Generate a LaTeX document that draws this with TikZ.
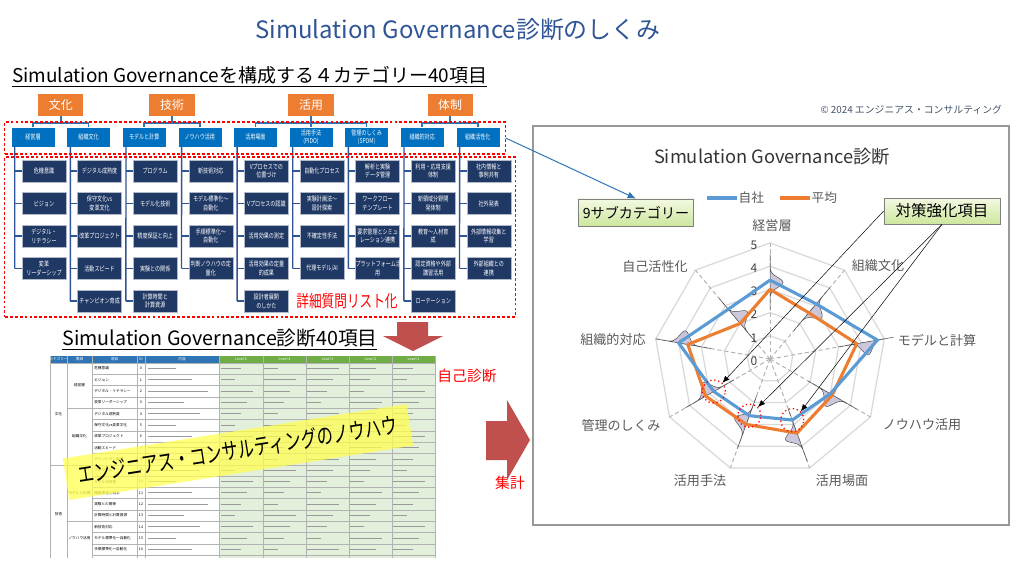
\documentclass[tikz,border=0pt]{standalone}
\usepackage{fontspec}
\setmainfont{Noto Sans CJK JP}
\newfontfamily\serre[FakeStretch=0.75]{Noto Sans CJK JP}
\newfontfamily\tresserre[FakeStretch=0.72]{Noto Sans CJK JP}
\usetikzlibrary{positioning,  % placement relatif
                calc,         % calculs de coordonnees
                arrows.meta}  % pointes de fleches
\definecolor{titre}{RGB}{47,85,151}
\definecolor{orcat}{RGB}{237,125,49}
\definecolor{blhdr}{RGB}{0,112,192}
\definecolor{nvitm}{RGB}{31,56,100}
\definecolor{blbrk}{RGB}{46,117,182}
\definecolor{bltrt}{RGB}{47,85,151}
\definecolor{rgfl}{RGB}{192,80,77}
\definecolor{serA}{RGB}{91,155,213}
\definecolor{serB}{RGB}{237,125,49}
\definecolor{grille}{RGB}{217,217,217}
\definecolor{lvbg}{RGB}{226,239,218}
\definecolor{lvhd}{RGB}{112,173,71}
\definecolor{tbhd}{RGB}{47,117,181}
\definecolor{cloche}{RGB}{196,189,214}
\definecolor{vtop}{RGB}{243,249,226}
\definecolor{vbot}{RGB}{205,231,158}
\definecolor{gristxt}{RGB}{89,89,89}
\definecolor{copyr}{RGB}{68,84,106}
\definecolor{jaune}{RGB}{255,255,80}
\tikzset{
  catbox/.style={fill=orcat, text=white, minimum width=1.125cm, minimum height=0.55cm,
    inner sep=0pt, font=\fontsize{8.5}{10}\selectfont},
  hdrbox/.style={fill=blhdr, draw=white, line width=0.3pt, text=white, text width=1.1cm,
    inner xsep=0pt, inner ysep=0pt, minimum height=0.5cm, align=center,
    font=\serre\fontsize{4.8}{5.6}\selectfont},
  itmbox/.style={fill=nvitm, draw=white!65!nvitm, line width=0.4pt, text=white, text width=1.1cm,
    inner xsep=0pt, inner ysep=0pt, minimum height=0.55cm, align=center,
    font=\serre\fontsize{4.8}{6.2}\selectfont},
  brk/.style={draw=blbrk, line width=1.1pt},
  tline/.style={draw=bltrt, line width=1pt},
  redbox/.style={draw=red, line width=0.8pt, dash pattern=on 2pt off 1.5pt},
  redtxt/.style={text=red, font=\fontsize{10.5}{12}\selectfont},
  vbox/.style={draw=black!50, line width=0.5pt, top color=vtop, bottom color=vbot,
    font=\fontsize{10}{12}\selectfont},
  anneau/.style={draw=grille, line width=0.9pt},
  rayon/.style={draw=black!30, line width=0.7pt, dash pattern=on 3pt off 2pt},
  serieA/.style={draw=serA, line width=2.2pt, line join=round},
  serieB/.style={draw=serB, line width=2.2pt, line join=round},
  bellst/.style={draw=black!70, line width=0.35pt, fill=cloche, fill opacity=0.85},
  rcirc/.style={draw=red, line width=0.9pt, dotted, circle, minimum size=0.58cm, inner sep=0pt},
  fleche/.style={draw=black, line width=0.35pt, -{Latex[length=5pt,width=4pt]}},
  axtxt/.style={text=gristxt, font=\fontsize{9.3}{11}\selectfont},
  valtxt/.style={text=black!75, font=\fontsize{8.5}{10}\selectfont},
  tgrid/.style={draw=black!30, line width=0.25pt},
  ttxt/.style={font=\fontsize{2.6}{3}\selectfont, inner sep=0pt},
  tbar/.style={draw=black!40, line width=0.7pt},
}
\begin{document}
\begin{tikzpicture}[x=0.025cm,y=-0.025cm]
\useasboundingbox (0,0) rectangle (1024,572);
% titres
\node[text=titre, font=\fontsize{17}{20}\selectfont] (ttl) at (458,30) {Simulation Governance診断のしくみ};
\node[anchor=west, inner sep=0pt, font=\fontsize{13.5}{16}\selectfont] (sub1) at (12,77)
  {\underline{Simulation Governanceを構成する４カテゴリー40項目}};
\node[anchor=east, text=copyr, font=\fontsize{7}{8}\selectfont] (cp) at (1007,110) {© 2024 エンジニアス・コンサルティング};

% arbre des 4 categories
\foreach \i/\h in {0/経営層,1/組織文化,2/モデルと計算,3/ノウハウ活用,4/活用場面,5/{活用手法\\(PIDO)},
                   6/{管理のしくみ\\(SPDM)},7/組織的対応,8/組織活性化}
  \node[hdrbox] (h\i) at ({33+55.6*\i},137) {\h};
\foreach \k/\a/\b/\t in {0/0/1/文化,1/2/3/技術,2/4/6/活用,3/7/8/体制}{
  \draw[brk] (h\a.north) -- ++(0,-4) -| (h\b.north);
  \node[catbox] (k\k) at ($(h\a.north)!0.5!(h\b.north)+(0,-22)$) {\t};
  \draw[brk] (k\k.south) -- ++(0,7);
}
\draw[brk] (h5.north) -- ++(0,-4);
\foreach \i/\n/\lst in {
  0/3/{危機意識,ビジョン,{デジタル・\\リテラシー},{変革\\リーダーシップ}},
  1/4/{デジタル成熟度,{保守文化vs\\変革文化},改革プロジェクト,活動スピード,チャンピオン育成},
  2/4/{プログラム,モデル化技術,精度保証と向上,実験との関係,{計算時間と\\計算資源}},
  3/3/{新技術対応,{モデル標準化～\\自動化},{手順標準化～\\自動化},{判断ノウハウの定\\量化}},
  4/4/{{Vプロセスでの\\位置づけ},Vプロセスの認識,活用効果の測定,{活用効果の定量\\的成果},{設計者展開\\のしかた}},
  5/3/{自動化プロセス,{実験計画法～\\設計探索},不確定性手法,代理モデル/AI},
  6/3/{{解析と実験\\データ管理},{ワークフロー\\テンプレート},{要求管理とシミュ\\レーション連携},{プラットフォーム活\\用}},
  7/4/{{利用・応用支援\\体制},{新領域分野開\\発体制},{教育～人材育\\成},{認定資格や外部\\講習活用},ローテーション},
  8/3/{{社内情報と\\事例共有},社外発表,{外部情報収集と\\学習},{外部組織との\\連携}}}{
  \foreach \t [count=\j from 0] in \lst {
    \node[itmbox] (c\i-\j) at ({44+55.6*\i},{171+32.5*\j}) {\t};
    \draw[tline] (c\i-\j.west) -- ++(-7,0);
  }
  \draw[tline] ($(h\i.south west)+(4,0)$) -- ($(c\i-\n.west)+(-7,0)$);
}
\node[redbox, minimum width=12.5cm, minimum height=0.8cm] (rb1) at (255,138) {};
\node[redbox, minimum width=12.75cm, minimum height=4cm] (rb2) at (260,237) {};
\node[redtxt, font=\serre\fontsize{12}{13}\selectfont] (dq) at (347,301) {詳細質問リスト化};

% tableau des 40 items
\node[anchor=west, inner sep=0pt, font=\fontsize{14}{16}\selectfont] (sub2) at (62,340)
  {\underline{Simulation Governance診断40項目}};
\fill[rgfl] (397,322) -- (428,322) -- (428,336) -- (443,336) -- (413,351) -- (383,336) -- (397,336) -- cycle;
\begin{scope}
\clip (45,350) rectangle (440,557);
\fill[tbhd] (50,356) rectangle (219,363);
\fill[lvhd] (219,356) rectangle (435,363);
\fill[white] (50,363) rectangle (219,560);
\fill[lvbg] (219,363) rectangle (435,560);
\foreach \r in {1,...,17} \draw[tgrid] (92,{363+11.3*\r}) -- (435,{363+11.3*\r});
\draw[tgrid] (50,363) -- (435,363);
\foreach \r in {4,9,14} \draw[tgrid] (67,{363+11.3*\r}) -- (92,{363+11.3*\r});
\draw[tgrid] (50,{363+11.3*9}) -- (67,{363+11.3*9});
\foreach \x in {50,67,92,137,145,219,263,306,349,392,435} \draw[tgrid] (\x,356) -- (\x,560);
\foreach \x/\t [count=\m] in {58.5/カテゴリー,79.5/領域,114.5/項目,141/ID,182/内容,241/Level 5,
                              284.5/Level 4,327.5/Level 3,370.5/Level 2,413.5/Level 1}
  \node[ttxt, text=white] (th\m) at (\x,359.5) {\t};
\foreach \t [count=\r from 0] in {危機意識,ビジョン,デジタル・リテラシー,変革リーダーシップ,デジタル成熟度,
    保守文化vs変革文化,改革プロジェクト,活動スピード,チャンピオン育成,プログラム,モデル化技術,
    精度保証と向上,実験との関係,計算時間と計算資源,新技術対応,モデル標準化～自動化,手順標準化～自動化,
    判断ノウハウの定量化}{
  \node[ttxt, anchor=west] (ti\r) at (94,{368.6+11.3*\r}) {\t};
  \node[ttxt] (id\r) at (141,{368.6+11.3*\r}) {\r};
  \draw[tbar] (148,{368.6+11.3*\r}) -- ++({28+mod(7*\r,5)*8},0);
  \foreach \c in {221,264,307,350,393}
    \draw[tbar] (\c,{368.6+11.3*\r}) -- ++({14+mod(3*\r+\c,4)*6},0);
}
\node[ttxt] (tc1) at (58.5,414) {文化};
\node[ttxt] (tc2) at (58.5,514) {技術};
\node[ttxt] (td1) at (79.5,385.6) {経営層};
\node[ttxt] (td2) at (79.5,436.5) {組織文化};
\node[ttxt] (td3) at (79.5,493) {モデルと計算};
\node[ttxt] (td4) at (79.5,538) {ノウハウ活用};
\end{scope}
\node[rotate=9, fill=jaune, fill opacity=0.75, minimum width=8.7cm, minimum height=1.05cm] (yb) at (238,452) {};
\node[rotate=9, font=\tresserre\fontsize{16}{18}\selectfont] (yt) at (238,450) {エンジニアス・コンサルティングのノウハウ};
\node[redtxt] (sd) at (467,376) {自己診断};
\fill[rgfl] (486,421) -- (507,421) -- (507,400) -- (530,440) -- (507,480) -- (507,460) -- (486,460) -- cycle;
\node[redtxt] (sk) at (510,483) {集計};

% diagramme radar
\draw[black!40, line width=0.8pt] (533,126) rectangle (1009,525);
\node[text=black!80, font=\fontsize{13}{15}\selectfont] (ct) at (772,157) {Simulation Governance診断};
\draw[serieA] (707,198) -- (737,198) coordinate (lgA);
\node[anchor=west, text=gristxt, inner sep=1pt, font=\fontsize{9}{10}\selectfont] (lA) at (lgA) {自社};
\draw[serieB] (780,198) -- (810,198) coordinate (lgB);
\node[anchor=west, text=gristxt, inner sep=1pt, font=\fontsize{9}{10}\selectfont] (lB) at (lgB) {平均};
\coordinate (ctr) at (770,359);
\def\ru{23.2}
\foreach \k in {1,...,5}
  \draw[anneau] plot[samples at={0,40,...,320}] ({770+\k*\ru*sin(\x)},{359-\k*\ru*cos(\x)}) -- cycle;
\foreach \a in {0,40,...,320}
  \draw[rayon] (ctr) -- ({770+5*\ru*sin(\a)},{359-5*\ru*cos(\a)});
\foreach \k in {0,...,5}
  \node[valtxt] (v\k) at (754,{361-\k*\ru}) {\k};
\foreach \t/\x/\y [count=\n] in {経営層/772/226,組織文化/878/266,モデルと計算/937/340,ノウハウ活用/922/425,
    活用場面/842/481,活用手法/700/481,管理のしくみ/621/425,組織的対応/613/340,自己活性化/655/267}
  \node[axtxt] (ax\n) at (\x,\y) {\t};
\foreach \v [count=\n from 0] in {3.4,3.1,4.7,3.0,2.8,2.6,2.8,4.0,2.8}
  \coordinate (b\n) at ({770+\v*\ru*sin(40*\n)},{359-\v*\ru*cos(40*\n)});
\foreach \v [count=\n from 0] in {3.0,2.6,3.8,3.1,3.4,3.0,3.2,3.6,2.0}
  \coordinate (o\n) at ({770+\v*\ru*sin(40*\n)},{359-\v*\ru*cos(40*\n)});
\foreach \v [count=\n from 0] in {3.3,2.8,4.2,3.1,3.5,2.9,3.0,3.8,2.2}{
  \begin{scope}[shift={(ctr)}, rotate=-40*\n]
    \draw[bellst] plot[domain=-28:28, samples=57] ({13*exp(-(\x/7)*(\x/7))},{-\v*\ru+\x}) -- cycle;
  \end{scope}
}
\draw[serieB] (o0) -- (o1) -- (o2) -- (o3) -- (o4) -- (o5) -- (o6) -- (o7) -- (o8) -- cycle;
\draw[serieA] (b0) -- (b1) -- (b2) -- (b3) -- (b4) -- (b5) -- (b6) -- (b7) -- (b8) -- cycle;
\node[rcirc] (rc6) at (b6) {};
\node[rcirc] (rc5) at (b5) {};
\node[rcirc] (rc4) at (b4) {};
\node[vbox, minimum width=2.8cm, minimum height=0.675cm] (sc) at (636,212.5) {9サブカテゴリー};
\node[vbox, minimum width=2.9cm, minimum height=0.65cm, font=\fontsize{11}{13}\selectfont] (ks) at (942,211) {対策強化項目};
\draw[fleche] (ks.west) -- (rc6.north east);
\draw[fleche] (ks.south) -- (rc5.north east);
\draw[fleche] (ks.south) -- (rc4.north east);
\draw[blbrk, line width=0.7pt, -{Latex[length=6pt,width=5pt]}] (rb1.east) -- (sc.north);
\end{tikzpicture}
\end{document}
